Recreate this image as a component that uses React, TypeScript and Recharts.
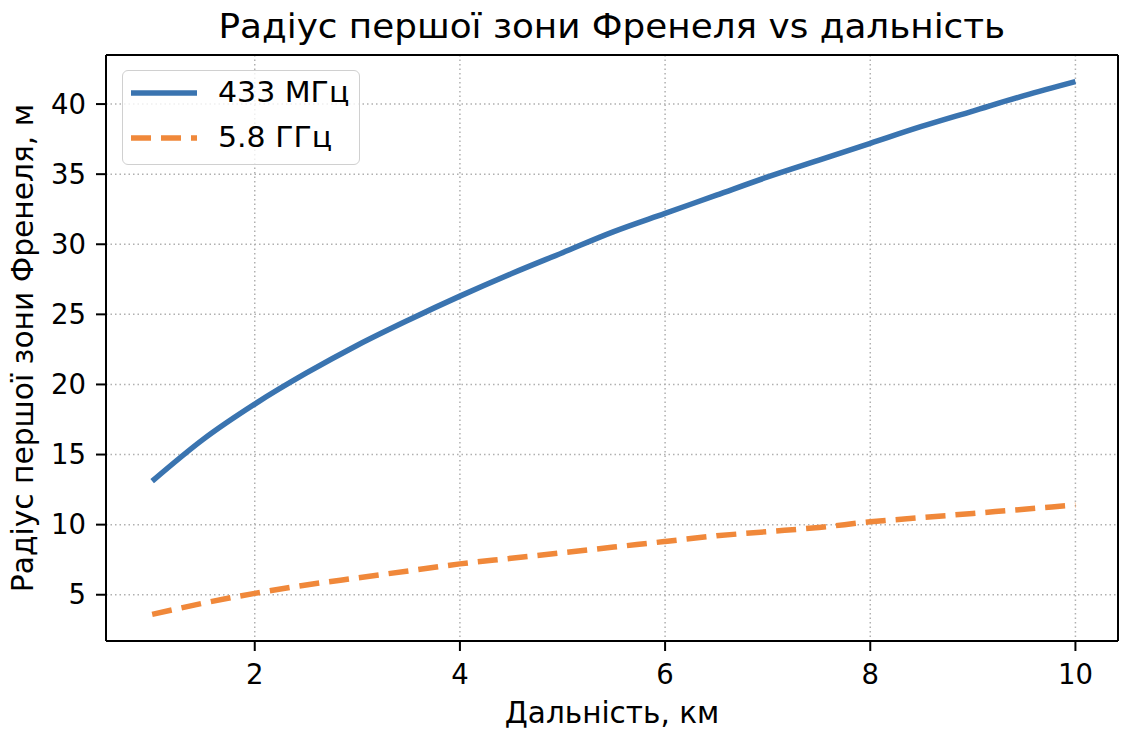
import React from 'react'
import { LineChart, Line, XAxis, YAxis, CartesianGrid, Legend, ReferenceLine } from 'recharts'

// distance, km
const distances = [1, 1.5, 2, 2.5, 3, 3.5, 4, 4.5, 5, 5.5, 6, 6.5, 7, 7.5, 8, 8.5, 9, 9.5, 10]
// Fresnel radius, m
const r433 = [13.1, 16.1, 18.6, 20.8, 22.8, 24.6, 26.3, 27.9, 29.4, 30.9, 32.2, 33.5, 34.8, 36.0, 37.2, 38.4, 39.5, 40.6, 41.6]
const r58 = [3.6, 4.4, 5.1, 5.7, 6.2, 6.7, 7.2, 7.6, 8.0, 8.4, 8.8, 9.2, 9.5, 9.8, 10.2, 10.5, 10.8, 11.1, 11.4]

const xTicks = [2, 4, 6, 8, 10]
const yTicks = [5, 10, 15, 20, 25, 30, 35, 40]

const seriesNames = ['433 МГц', '5.8 ГГц']

const BLUE = '#3a74b0'
const ORANGE = '#f0883a'
const FONT = '"DejaVu Sans", sans-serif'

const data = distances.map((d, i) => ({ d, a: r433[i], b: r58[i] }))

const LegendBox = () => (
  <div
    style={{
      width: 236,
      height: 93,
      border: '1.5px solid #d0d0d0',
      borderRadius: 6,
      background: 'rgba(255,255,255,0.8)',
      position: 'relative',
      fontFamily: FONT,
      fontSize: 27.5,
      color: '#000',
    }}
  >
    {[
      { name: seriesNames[0], color: BLUE, dash: undefined, y: 22 },
      { name: seriesNames[1], color: ORANGE, dash: '20 10', y: 67 },
    ].map((s) => (
      <div key={s.name}>
        <svg style={{ position: 'absolute', left: 8, top: s.y - 5 }} width={68} height={10}>
          <line x1={0} y1={5} x2={66} y2={5} stroke={s.color} strokeWidth={5.5} strokeDasharray={s.dash} />
        </svg>
        <span
          style={{
            position: 'absolute',
            left: 95,
            top: s.y - 17,
            lineHeight: '32px',
            whiteSpace: 'nowrap',
            transform: 'scaleX(1.09)',
            transformOrigin: 'left center',
          }}
        >
          {s.name}
        </span>
      </div>
    ))}
  </div>
)

export default function App() {
  return (
    <div style={{ position: 'absolute', left: 0, top: 0, width: 1122, height: 729, background: '#fff' }}>
      <div
        style={{
          position: 'absolute',
          left: 106,
          width: 1012,
          top: 10,
          textAlign: 'center',
          fontFamily: FONT,
          fontSize: 33,
          lineHeight: '33px',
          color: '#000',
          whiteSpace: 'nowrap',
          transform: 'scaleX(1.084)',
          transformOrigin: '508px center',
        }}
      >
        Радіус першої зони Френеля vs дальність
      </div>
      <LineChart width={1122} height={729} data={data} margin={{ top: 55, right: 4, bottom: 0, left: 0 }}>
        <CartesianGrid stroke="#b0b0b0" strokeWidth={1.5} strokeDasharray="1.5 3" />
        <XAxis
          dataKey="d"
          type="number"
          domain={[0.55, 10.415]}
          ticks={xTicks}
          height={88}
          stroke="#000"
          strokeWidth={2}
          tickSize={10}
          tickMargin={13}
          tick={{ fill: '#000', fontSize: 27.5, fontFamily: FONT }}
          label={{ value: 'Дальність, км', position: 'insideBottom', offset: 6, fill: '#000', fontSize: 29.5, fontFamily: FONT }}
        />
        <YAxis
          type="number"
          domain={[1.7, 43.5]}
          ticks={yTicks}
          width={106}
          stroke="#000"
          strokeWidth={2}
          tickSize={10}
          tickMargin={10}
          tick={{ fill: '#000', fontSize: 27.5, fontFamily: FONT }}
          label={{
            value: 'Радіус першої зони Френеля, м',
            angle: -90,
            position: 'insideLeft',
            offset: 22,
            fill: '#000',
            fontSize: 29.7,
            fontFamily: FONT,
            style: { textAnchor: 'middle' },
          }}
        />
        <ReferenceLine y={43.5} stroke="#000" strokeWidth={2} />
        <ReferenceLine x={10.415} stroke="#000" strokeWidth={2} />
        <Line
          type="monotone"
          dataKey="a"
          name={seriesNames[0]}
          stroke={BLUE}
          strokeWidth={5.5}
          dot={false}
          isAnimationActive={false}
        />
        <Line
          type="monotone"
          dataKey="b"
          name={seriesNames[1]}
          stroke={ORANGE}
          strokeWidth={5.5}
          strokeDasharray="20 10"
          dot={false}
          isAnimationActive={false}
        />
        <Legend
          layout="vertical"
          align="center"
          verticalAlign="middle"
          content={() => <LegendBox />}
          wrapperStyle={{ left: 122, top: 70, width: 240, height: 97 }}
        />
      </LineChart>
    </div>
  )
}
